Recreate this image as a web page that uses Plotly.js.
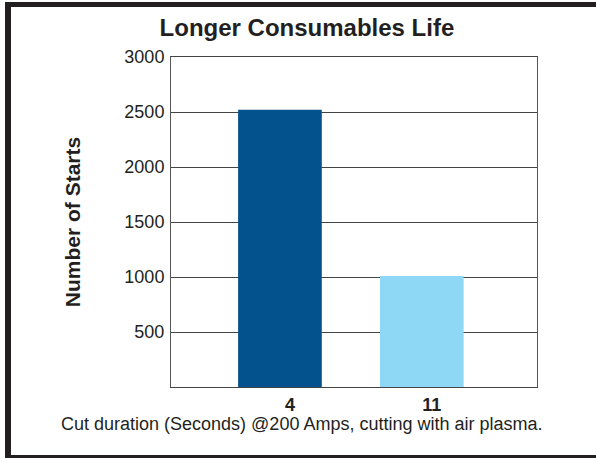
<!DOCTYPE html>
<html>
<head>
<meta charset="utf-8">
<script src="https://cdn.plot.ly/plotly-3.0.1.min.js"></script>
<style>
  html, body { margin: 0; padding: 0; background: #fff; }
  #wrap { position: relative; width: 596px; height: 458px; overflow: hidden; }
  #chart { width: 596px; height: 458px; }
  .bd { position: absolute; background: #231f20; }
</style>
</head>
<body>
<div id="wrap">
  <div id="chart"></div>
  <div class="bd" style="left:5px; top:2px; width:591px; height:5px;"></div>
  <div class="bd" style="left:5px; top:2px; width:6px; height:456px;"></div>
  <div class="bd" style="left:5px; top:455px; width:591px; height:3px;"></div>
</div>
<script>
const categories = ["4", "11"];
const starts = [2520, 1010];
const barColors = ["#03528d", "#8fd8f5"];
const yTicks = [500, 1000, 1500, 2000, 2500, 3000];
const yTickLabels = ["500", "1000", "1500", "2000", "2500", "3000"];
const xTitle = "Cut duration (Seconds) @200 Amps, cutting with air plasma.";

const trace = {
  type: "bar",
  x: [0, 1],
  y: starts,
  width: 0.59,
  marker: { color: barColors, line: { width: 0 } },
  hoverinfo: "skip"
};

const layout = {
  width: 596,
  height: 458,
  margin: { l: 171, r: 59, t: 57, b: 71 },
  paper_bgcolor: "#ffffff",
  plot_bgcolor: "#ffffff",
  showlegend: false,
  font: { family: "Liberation Sans, Arial, Helvetica, sans-serif", color: "#231f20", size: 17 },
  title: {
    text: "<b>Longer Consumables Life</b>",
    font: { size: 24, color: "#231f20" },
    x: 0.515, xref: "container", xanchor: "center",
    y: 0.94, yref: "container", yanchor: "middle"
  },
  xaxis: {
    type: "linear",
    range: [-0.768, 1.812],
    tickmode: "array",
    tickvals: [0, 1],
    ticktext: categories.map(c => "<b>" + c + "</b>"),
    ticks: "",
    ticklabelshift: 10,
    ticklabelstandoff: 1,
    showgrid: false,
    zeroline: false,
    showline: true,
    linecolor: "#444",
    linewidth: 1,
    mirror: true,
    tickfont: { size: 18, color: "#231f20" }
  },
  yaxis: {
    range: [0, 3000],
    tickmode: "array",
    tickvals: yTicks,
    ticktext: yTickLabels,
    ticks: "",
    ticklen: 0,
    ticklabelstandoff: 2,
    showgrid: true,
    gridcolor: "#444",
    gridwidth: 1,
    zeroline: false,
    showline: true,
    linecolor: "#555",
    linewidth: 1,
    mirror: true,
    tickfont: { size: 18, color: "#231f20" },
    title: {
      text: "<b>Number of Starts</b>",
      font: { size: 21, color: "#231f20" },
      standoff: 38
    }
  },
  annotations: [{
    text: xTitle,
    xref: "paper", yref: "paper",
    x: 0.358, y: -0.112,
    xanchor: "center", yanchor: "middle",
    showarrow: false,
    font: { size: 18, color: "#231f20" }
  }]
};

Plotly.newPlot("chart", [trace], layout, { staticPlot: true, displayModeBar: false });
</script>
</body>
</html>
